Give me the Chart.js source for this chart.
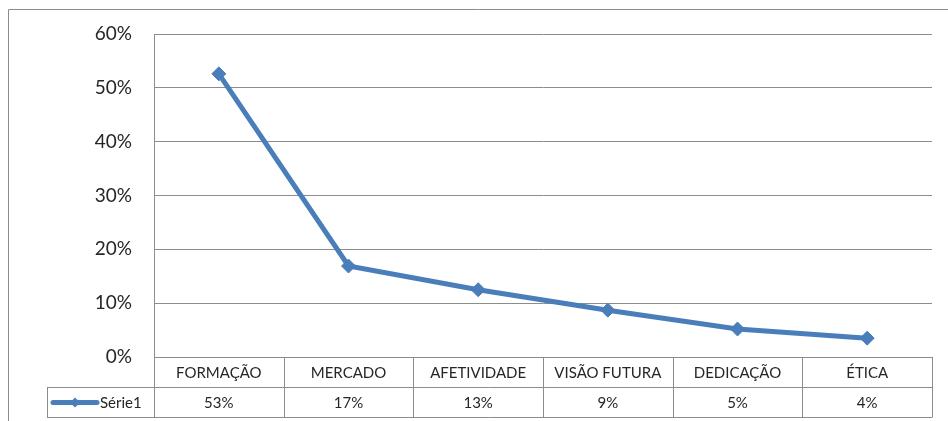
<!DOCTYPE html>
<html>
<head>
<meta charset="utf-8">
<script src="https://cdn.jsdelivr.net/npm/chart.js@4.4.1/dist/chart.umd.min.js"></script>
<style>
  html, body { margin: 0; padding: 0; background: #ffffff; }
  #wrap { width: 948px; height: 421px; }
</style>
</head>
<body>
<div id="wrap"><canvas id="c" width="948" height="421"></canvas></div>
<script>
// Categories and series values
const categories = ['FORMAÇÃO', 'MERCADO', 'AFETIVIDADE', 'VISÃO FUTURA', 'DEDICAÇÃO', 'ÉTICA'];
const seriesName = 'Série1';
const serie1 = [0.526, 0.169, 0.125, 0.087, 0.052, 0.035];
const yTicks = [0, 0.1, 0.2, 0.3, 0.4, 0.5, 0.6];

const FONT = 'Lato, "Open Sans", sans-serif';
const LINE_COLOR = '#4A7EBB';
const GRID_COLOR = '#8c8c8c';
const TEXT_COLOR = '#262626';

const pct = v => Math.round(v * 100) + '%';

// Draws the outer frame and the data table under the plot
const dataTablePlugin = {
  id: 'dataTable',
  afterDraw(chart) {
    const ctx = chart.ctx;
    const area = chart.chartArea;
    const n = categories.length;
    const colW = (area.right - area.left) / n;
    const rowH = 30;
    const top = area.bottom;
    const mid = top + rowH;
    const bot = mid + rowH;
    const legendLeft = 47;

    ctx.save();
    ctx.strokeStyle = GRID_COLOR;
    ctx.lineWidth = 1;

    // outer chart frame
    ctx.beginPath();
    ctx.moveTo(8.5, 421);
    ctx.lineTo(8.5, 9.5);
    ctx.lineTo(948, 9.5);
    ctx.stroke();

    // horizontal table lines
    ctx.beginPath();
    ctx.moveTo(legendLeft, Math.round(mid) + 0.5);
    ctx.lineTo(area.right, Math.round(mid) + 0.5);
    ctx.moveTo(legendLeft, Math.round(bot) + 0.5);
    ctx.lineTo(area.right, Math.round(bot) + 0.5);
    // vertical table lines
    for (let i = 0; i <= n; i++) {
      const x = Math.round(area.left + i * colW) + 0.5;
      ctx.moveTo(x, top);
      ctx.lineTo(x, Math.round(bot) + 0.5);
    }
    ctx.moveTo(legendLeft + 0.5, Math.round(mid) + 0.5);
    ctx.lineTo(legendLeft + 0.5, Math.round(bot) + 0.5);
    ctx.stroke();

    // table text
    ctx.fillStyle = TEXT_COLOR;
    ctx.font = '15px ' + FONT;
    ctx.textAlign = 'center';
    ctx.textBaseline = 'middle';
    const xs = chart.scales.x;
    categories.forEach((c, i) => {
      const cx = xs.getPixelForValue(i);
      ctx.fillText(c, cx, top + rowH / 2 + 1);
      ctx.fillText(pct(serie1[i]), cx, mid + rowH / 2 + 1);
    });

    // legend key in the series row
    const ky = mid + rowH / 2 + 0.5;
    ctx.strokeStyle = LINE_COLOR;
    ctx.lineWidth = 5;
    ctx.lineCap = 'round';
    ctx.beginPath();
    ctx.moveTo(53, ky);
    ctx.lineTo(97, ky);
    ctx.stroke();
    ctx.fillStyle = LINE_COLOR;
    ctx.beginPath();
    ctx.moveTo(75, ky - 5);
    ctx.lineTo(80, ky);
    ctx.lineTo(75, ky + 5);
    ctx.lineTo(70, ky);
    ctx.closePath();
    ctx.fill();

    ctx.fillStyle = TEXT_COLOR;
    ctx.textAlign = 'left';
    ctx.fillText(seriesName, 100, mid + rowH / 2 + 1);
    ctx.restore();
  }
};

new Chart(document.getElementById('c'), {
  type: 'line',
  data: {
    labels: categories,
    datasets: [{
      label: seriesName,
      data: serie1,
      borderColor: LINE_COLOR,
      backgroundColor: LINE_COLOR,
      borderWidth: 5,
      tension: 0,
      pointStyle: 'rectRot',
      pointRadius: 7,
      pointHoverRadius: 7,
      pointBorderWidth: 1
    }]
  },
  options: {
    responsive: false,
    animation: false,
    events: [],
    layout: {
      autoPadding: false,
      padding: { left: 0, top: 34, right: 16, bottom: 64 }
    },
    plugins: {
      legend: { display: false },
      tooltip: { enabled: false }
    },
    scales: {
      x: {
        type: 'category',
        offset: true,
        grid: { display: false, drawTicks: false },
        border: { display: false },
        ticks: { display: false },
        afterFit(s) { s.height = 0; }
      },
      y: {
        min: 0,
        max: 0.6,
        afterBuildTicks(s) { s.ticks = yTicks.map(v => ({ value: v })); },
        grid: { color: GRID_COLOR, lineWidth: 1, drawTicks: false },
        border: { display: true, color: GRID_COLOR, width: 1 },
        ticks: {
          padding: 22,
          color: TEXT_COLOR,
          font: { family: FONT, size: 19 },
          callback: v => pct(v)
        },
        afterFit(s) { s.width = 154; }
      }
    }
  },
  plugins: [dataTablePlugin]
});
</script>
</body>
</html>
